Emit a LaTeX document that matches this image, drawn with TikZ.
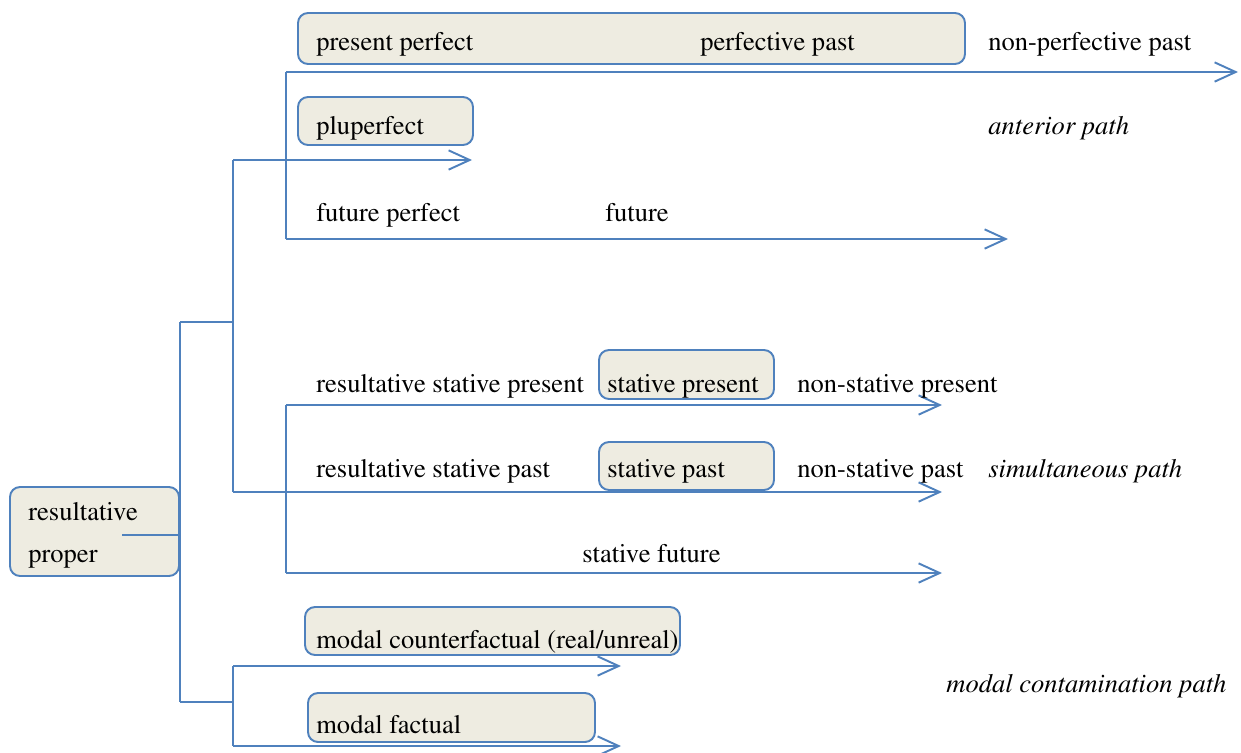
\documentclass[tikz,border=0pt]{standalone}
\usepackage[T1]{fontenc}
\usepackage{mathptmx}
\usetikzlibrary{arrows.meta,positioning,fit}
\definecolor{linkblue}{HTML}{4F81BD}
\definecolor{boxtan}{HTML}{EEECE1}

\begin{document}
\begin{tikzpicture}[x=0.02cm, y=-0.02cm,
  box/.style={draw=linkblue, fill=boxtan, rounded corners=0.2cm, line width=1.1pt, inner sep=0pt},
  link/.style={draw=linkblue, line width=1.1pt},
  arr/.style={link, -{Straight Barb[length=12pt, width=11pt, line width=1.1pt]}},
  lbl/.style={anchor=base west, inner sep=0pt, font=\fontsize{15.1}{18}\selectfont},
  pathlbl/.style={lbl, font=\fontsize{15.1}{18}\selectfont\itshape}]
\useasboundingbox (0,0) rectangle (1241,752);

\node[box, fit={(298,13) (965,64)}] (perfbox) {};
\node[box, fit={(298,97) (473,145)}] (plupbox) {};
\node[box, fit={(599,350) (774,399)}] (statpresbox) {};
\node[box, fit={(599,442) (774,490)}] (statpastbox) {};
\node[box, fit={(10,487) (179,576)}] (resbox) {};
\node[box, fit={(305,607) (680,655)}] (cfbox) {};
\node[box, fit={(308,693) (595,742)}] (factbox) {};

\coordinate (stub) at (122,535);
\coordinate (trunk) at (180,535);
\coordinate (t1) at (180,322);
\coordinate (t2) at (180,702);
\coordinate (a1) at (233,322);
\coordinate (a2) at (233,160);
\coordinate (a3) at (233,492);
\coordinate (b1) at (286,72);
\coordinate (b2) at (286,239);
\coordinate (b3) at (286,405);
\coordinate (b4) at (286,573);
\coordinate (m1) at (233,702);
\coordinate (m2) at (233,666);
\coordinate (m3) at (233,746);

\draw[link] (stub) -- (trunk);
\draw[link] (t1) -- (t2);
\draw[link] (t1) -- (a1);
\draw[link] (a2) -- (a3);
\draw[link] (b1) -- (b2);
\draw[link] (b3) -- (b4);
\draw[link] (t2) -- (m1);
\draw[link] (m2) -- (m3);
\draw[arr] (a2) -- (472,160);
\draw[arr] (b1) -- (1238,72);
\draw[arr] (b2) -- (1008,239);
\draw[arr] (b3) -- (942,405);
\draw[arr] (a3) -- (942,492);
\draw[arr] (b4) -- (942,573);
\draw[arr] (m2) -- (621,666);
\draw[arr] (m3) -- (621,746);

\node[lbl] (prperf) at (316,50) {present perfect};
\node[lbl] (perfpast) at (700,50) {perfective past};
\node[lbl] (nonperf) at (988,50) {non-perfective past};
\node[lbl] (plup) at (316,134) {pluperfect};
\node[pathlbl] (anter) at (988,134) {anterior path};
\node[lbl] (futperf) at (316,221) {future perfect};
\node[lbl] (fut) at (605,221) {future};
\node[lbl] (rspres) at (316,392) {resultative stative present};
\node[lbl] (spres) at (607,392) {stative present};
\node[lbl] (nspres) at (797,392) {non-stative present};
\node[lbl] (rspast) at (316,477) {resultative stative past};
\node[lbl] (spast) at (607,477) {stative past};
\node[lbl] (nspast) at (797,477) {non-stative past};
\node[pathlbl] (simul) at (988,477) {simultaneous path};
\node[lbl] (sfut) at (582,562) {stative future};
\node[lbl] (res1) at (28,520) {resultative};
\node[lbl] (res2) at (28,562) {proper};
\node[lbl] (cf) at (316,648) {modal counterfactual (real/unreal)};
\node[pathlbl] (modal) at (946,692) {modal contamination path};
\node[lbl] (fact) at (316,733) {modal factual};
\end{tikzpicture}
\end{document}
